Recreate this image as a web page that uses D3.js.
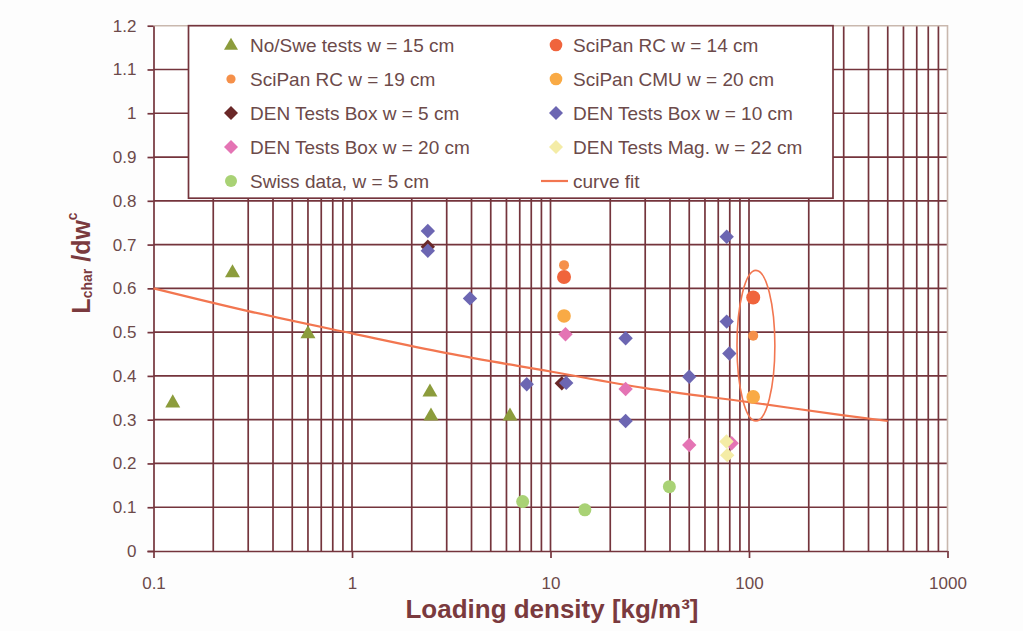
<!DOCTYPE html>
<html>
<head>
<meta charset="utf-8">
<script src="https://cdn.jsdelivr.net/npm/d3@7"></script>
<style>
  html, body { margin: 0; padding: 0; background: #fdfdfd; }
  svg { display: block; font-family: "Liberation Sans", Arial, sans-serif; }
</style>
</head>
<body>
<svg id="chart" width="1023" height="631"></svg>
<script>
// ---- data: [loading density kg/m3, Lchar/dw^c] ----
const noSweTests    = [[0.125, 0.34], [0.25, 0.637], [0.6, 0.498], [2.47, 0.365], [2.5, 0.31], [6.25, 0.31]];
const sciPanRC14    = [[11.7, 0.626], [105, 0.579]];
const sciPanRC19    = [[11.7, 0.653], [105, 0.492]];
const sciPanCMU20   = [[11.7, 0.537], [105, 0.352]];
const denBox5       = [[2.41, 0.695], [11.4, 0.383]];
const denBox10      = [[2.41, 0.731], [2.41, 0.686], [3.93, 0.577], [7.59, 0.381], [12.0, 0.384],
                       [23.9, 0.486], [23.9, 0.297], [50, 0.398], [77.2, 0.718], [77.2, 0.524], [79.6, 0.451]];
const denBox20      = [[11.9, 0.495], [23.9, 0.37], [50, 0.242], [81.8, 0.246]];
const denMag22      = [[77, 0.25], [77.7, 0.219]];
const swissData     = [[7.24, 0.113], [14.9, 0.094], [39.7, 0.147]];
const curveFit      = [[0.1, 0.6], [0.3, 0.548], [1, 0.497], [3, 0.452], [10, 0.41],
                       [30, 0.372], [100, 0.34], [300, 0.31], [500, 0.297]];
// highlighted group around the 105 kg/m3 tests: x range, y range
const highlightX    = [87, 135];
const highlightY    = [0.297, 0.641];

const xTickValues = [0.1, 1, 10, 100, 1000];
const xTickLabels = ["0.1", "1", "10", "100", "1000"];
const yTickValues = [0, 0.1, 0.2, 0.3, 0.4, 0.5, 0.6, 0.7, 0.8, 0.9, 1, 1.1, 1.2];
const yTickLabels = ["0", "0.1", "0.2", "0.3", "0.4", "0.5", "0.6", "0.7", "0.8", "0.9", "1", "1.1", "1.2"];

const seriesNames = ["No/Swe tests w = 15 cm", "SciPan RC w = 14 cm", "SciPan RC w = 19 cm",
  "SciPan CMU w = 20 cm", "DEN Tests Box w = 5 cm", "DEN Tests Box w = 10 cm",
  "DEN Tests Box w = 20 cm", "DEN Tests Mag. w = 22 cm", "Swiss data, w = 5 cm", "curve fit"];

// ---- styling ----
const gridColor = "#74343c";
const borderColor = "#c9b8ae";
const labelColor = "#6c4a4a";
const titleColor = "#7a3a3e";
const curveColor = "#f27650";

const series = [
  { name: seriesNames[0], data: noSweTests,  shape: "triangle", color: "#8c9c3c", size: 15, lsize: 14 },
  { name: seriesNames[1], data: sciPanRC14,  shape: "circle",   color: "#f0643c", size: 7,  lsize: 6.3 },
  { name: seriesNames[2], data: sciPanRC19,  shape: "circle",   color: "#f5904a", size: 5,  lsize: 4.6 },
  { name: seriesNames[3], data: sciPanCMU20, shape: "circle",   color: "#f9aa45", size: 6.8, lsize: 6.3 },
  { name: seriesNames[4], data: denBox5,     shape: "diamond",  color: "#6a2828", size: 7.2, lsize: 7 },
  { name: seriesNames[5], data: denBox10,    shape: "diamond",  color: "#6c66b2", size: 7.2, lsize: 7 },
  { name: seriesNames[6], data: denBox20,    shape: "diamond",  color: "#e474b4", size: 7.2, lsize: 7 },
  { name: seriesNames[7], data: denMag22,    shape: "diamond",  color: "#f4eca6", size: 7.2, lsize: 7 },
  { name: seriesNames[8], data: swissData,   shape: "circle",   color: "#a9d275", size: 6.5, lsize: 6 }
];

const svg = d3.select("#chart");
const plot = { left: 153.5, right: 947.5, top: 25.7, bottom: 551 };

const x = d3.scaleLog().domain([0.1, 1000]).range([plot.left, plot.right]);
const y = d3.scaleLinear().domain([0, 1.2]).range([plot.bottom, plot.top]);

svg.append("rect").attr("width", 1023).attr("height", 631).attr("fill", "#fdfdfd");
svg.append("rect").attr("x", plot.left).attr("y", plot.top)
  .attr("width", plot.right - plot.left).attr("height", plot.bottom - plot.top).attr("fill", "#ffffff");

// ---- grid ----
const grid = svg.append("g").attr("stroke", gridColor).attr("stroke-width", 1.7);
grid.selectAll("line.v").data(x.ticks().filter(d => d > 0.1 && d < 1000)).join("line")
  .attr("class", "v")
  .attr("x1", d => x(d)).attr("x2", d => x(d))
  .attr("y1", plot.top).attr("y2", plot.bottom);
grid.selectAll("line.h").data(yTickValues.filter(d => d > 0 && d < 1.2)).join("line")
  .attr("class", "h")
  .attr("x1", plot.left).attr("x2", plot.right)
  .attr("y1", d => y(d)).attr("y2", d => y(d));

// plot border (top / right)
svg.append("path")
  .attr("d", `M${plot.left},${plot.top}H${plot.right}V${plot.bottom}`)
  .attr("fill", "none").attr("stroke", borderColor).attr("stroke-width", 1.6);

// ---- axes ----
const xAxis = d3.axisBottom(x).tickValues(xTickValues).tickFormat((d, i) => xTickLabels[i])
  .tickSizeInner(7).tickSizeOuter(0).tickPadding(19);
const gx = svg.append("g").attr("transform", `translate(0,${plot.bottom})`).call(xAxis);
gx.select(".domain").attr("stroke", gridColor).attr("stroke-width", 1.7)
  .attr("d", `M${plot.left - 6},0.5H${plot.right}`);
gx.selectAll(".tick line").attr("stroke", gridColor).attr("stroke-width", 1.7);
gx.selectAll(".tick text").attr("fill", labelColor).attr("font-size", 17)
  .attr("font-family", "Liberation Sans, Arial, sans-serif");

const yAxis = d3.axisLeft(y).tickValues(yTickValues).tickFormat((d, i) => yTickLabels[i])
  .tickSizeInner(6).tickSizeOuter(0).tickPadding(11);
const gy = svg.append("g").attr("transform", `translate(${plot.left},0)`).call(yAxis);
gy.select(".domain").attr("stroke", gridColor).attr("stroke-width", 1.7);
gy.selectAll(".tick line").attr("stroke", gridColor).attr("stroke-width", 1.7);
gy.selectAll(".tick text").attr("fill", labelColor).attr("font-size", 17)
  .attr("font-family", "Liberation Sans, Arial, sans-serif");

// ---- curve fit ----
const line = d3.line().x(d => x(d[0])).y(d => y(d[1])).curve(d3.curveMonotoneX);
svg.append("path").datum(curveFit).attr("d", line)
  .attr("fill", "none").attr("stroke", curveColor).attr("stroke-width", 2.2);

// ---- markers ----
function drawMarker(sel, shape, color, size) {
  if (shape === "circle") {
    sel.append("circle").attr("r", size).attr("fill", color);
  } else if (shape === "diamond") {
    sel.append("path").attr("d", `M0,${-size}L${size},0L0,${size}L${-size},0Z`).attr("fill", color);
  } else if (shape === "triangle") {
    const h = size * 0.87;
    sel.append("path").attr("d", `M0,${-h * 0.6}L${size / 2},${h * 0.4}L${-size / 2},${h * 0.4}Z`).attr("fill", color);
  }
}

series.forEach(s => {
  svg.append("g").selectAll("g").data(s.data).join("g")
    .attr("transform", d => `translate(${x(d[0])},${y(d[1])})`)
    .each(function () { drawMarker(d3.select(this), s.shape, s.color, s.size); });
});

// highlight ellipse
svg.append("ellipse")
  .attr("cx", (x(highlightX[0]) + x(highlightX[1])) / 2)
  .attr("cy", (y(highlightY[0]) + y(highlightY[1])) / 2)
  .attr("rx", (x(highlightX[1]) - x(highlightX[0])) / 2)
  .attr("ry", (y(highlightY[0]) - y(highlightY[1])) / 2)
  .attr("fill", "none").attr("stroke", curveColor).attr("stroke-width", 1.6);

// ---- legend ----
const legend = svg.append("g");
legend.append("rect").attr("x", 188.5).attr("y", plot.top).attr("width", 644.5).attr("height", 172.5)
  .attr("fill", "#ffffff").attr("stroke", gridColor).attr("stroke-width", 1.7);
const rows = [45, 79, 113, 147, 181];
const cols = [{ mx: 231, tx: 250 }, { mx: 556, tx: 573 }];
seriesNames.forEach((name, i) => {
  const c = cols[i % 2], r = rows[Math.floor(i / 2)];
  const g = legend.append("g");
  if (i < series.length) {
    const s = series[i];
    const mg = g.append("g").attr("transform", `translate(${c.mx},${r})`);
    drawMarker(mg, s.shape, s.color, s.lsize);
  } else {
    g.append("line").attr("x1", 541).attr("x2", 568).attr("y1", r).attr("y2", r)
      .attr("stroke", curveColor).attr("stroke-width", 2.2);
  }
  g.append("text").attr("x", c.tx).attr("y", r).attr("dy", "0.36em")
    .attr("font-size", 19).attr("fill", labelColor).text(name);
});

// ---- axis titles ----
svg.append("text").attr("x", 552).attr("y", 618).attr("text-anchor", "middle")
  .attr("font-size", 25).attr("font-weight", "bold").attr("fill", titleColor)
  .attr("textLength", 293).attr("lengthAdjust", "spacingAndGlyphs")
  .text("Loading density [kg/m³]");

const yt = svg.append("text").attr("transform", "translate(90,263) rotate(-90)")
  .attr("text-anchor", "middle").attr("font-weight", "bold").attr("fill", titleColor);
yt.append("tspan").attr("font-size", 25).text("L");
yt.append("tspan").attr("font-size", 14).attr("dy", 2).text("char");
yt.append("tspan").attr("font-size", 25).attr("dy", -2).text(" /dw");
yt.append("tspan").attr("font-size", 14).attr("dy", -13).text("c");
</script>
</body>
</html>
